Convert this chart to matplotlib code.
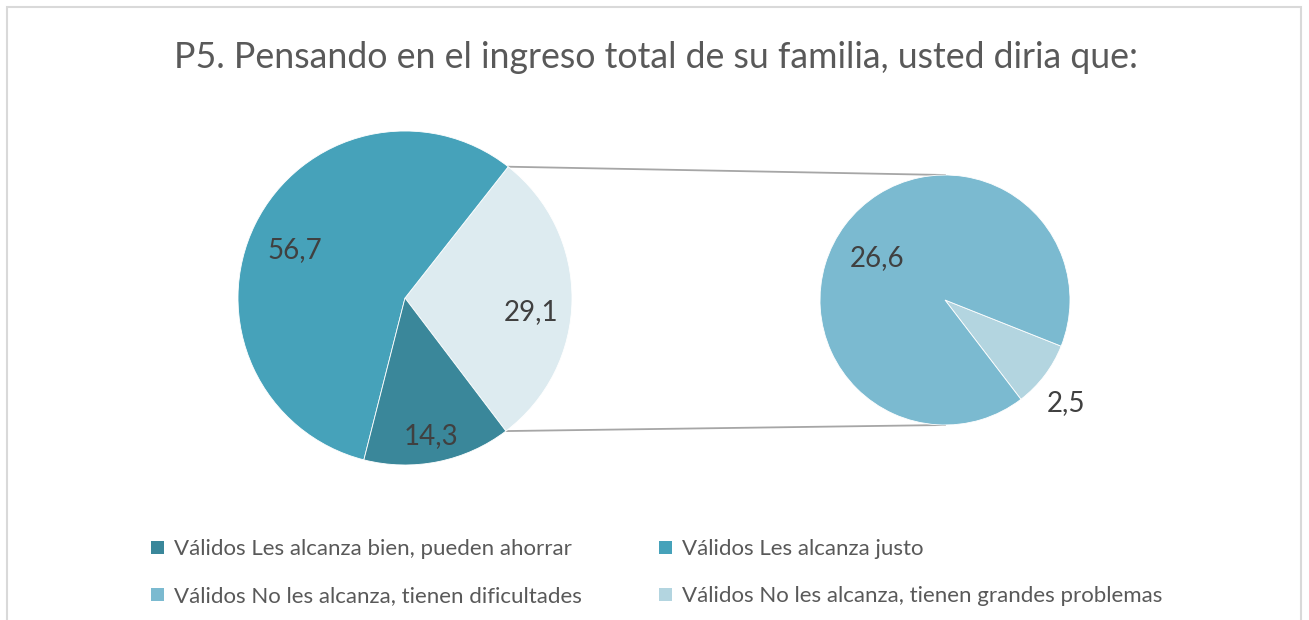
import numpy as np
import matplotlib.pyplot as plt
from matplotlib.patches import Rectangle

plt.rcParams['font.family'] = ['Lato', 'DejaVu Sans']

title = "P5. Pensando en el ingreso total de su familia, usted diria que:"

# main pie: "otros" (split into the second pie), justo, bien
main_vals = [29.1, 56.7, 14.3]
main_labels = ["29,1", "56,7", "14,3"]
# secondary pie: grandes problemas, dificultades
sub_vals = [2.5, 26.6]
sub_labels = ["2,5", "26,6"]

legend_names = ["Válidos Les alcanza bien, pueden ahorrar",
                "Válidos Les alcanza justo",
                "Válidos No les alcanza, tienen dificultades",
                "Válidos No les alcanza, tienen grandes problemas"]

c_bien = '#3a879a'
c_justo = '#46a2ba'
c_otro = '#ddebf0'
c_dif = '#7bbad0'
c_grand = '#b3d5e0'
legend_colors = [c_bien, c_justo, c_dif, c_grand]

W, H = 1309, 620
fig = plt.figure(figsize=(W / 100, H / 100), dpi=100)
ax = fig.add_axes([0, 0, 1, 1])

# main pie
c1 = (405, 322)
r1 = 167
total = sum(main_vals)
start1 = -main_vals[0] / total * 360 / 2 - 0.5
wedges1, _ = ax.pie(main_vals, colors=[c_otro, c_justo, c_bien], startangle=start1,
                    counterclock=True, center=c1, radius=r1,
                    wedgeprops=dict(lw=0.6, ec='white'), frame=True)

# secondary pie
c2 = (945, 320)
r2 = 125
start2 = -52.6
wedges2, _ = ax.pie(sub_vals, colors=[c_grand, c_dif], startangle=start2,
                    counterclock=True, center=c2, radius=r2,
                    wedgeprops=dict(lw=0.6, ec='white'), frame=True)
ax.set_xlim(0, W)
ax.set_ylim(0, H)
ax.set_aspect('equal')
ax.axis('off')

# chart frame
ax.add_patch(Rectangle((7, -5), 1294, H - 7 + 5, fill=False, ec='#d9d9d9', lw=1.5))

ax.text(W / 2 + 1, H - 57, title, ha='center', va='center', fontsize=25.7,
        color='#595959')

# connector lines
a_top = np.radians(wedges1[0].theta2)
a_bot = np.radians(wedges1[0].theta1)
ax.plot([c1[0] + r1 * np.cos(a_top), c2[0]], [c1[1] + r1 * np.sin(a_top), c2[1] + r2],
        color='#a6a6a6', lw=1.3, zorder=0)
ax.plot([c1[0] + r1 * np.cos(a_bot), c2[0]], [c1[1] + r1 * np.sin(a_bot), c2[1] - r2],
        color='#a6a6a6', lw=1.3, zorder=0)

# data labels (angle, fraction of radius)
main_pos = [(-6.3, 0.76), (156.4, 0.72), (-79.3, 0.84)]
for lab, (ang, d) in zip(main_labels, main_pos):
    a = np.radians(ang)
    ax.text(c1[0] + d * r1 * np.cos(a), c1[1] + d * r1 * np.sin(a), lab,
            ha='center', va='center', fontsize=20, color='#404040')
sub_pos = [(-40.5, 1.27), (148.1, 0.64)]
for lab, (ang, d) in zip(sub_labels, sub_pos):
    a = np.radians(ang)
    ax.text(c2[0] + d * r2 * np.cos(a), c2[1] + d * r2 * np.sin(a), lab,
            ha='center', va='center', fontsize=20, color='#404040')

# legend
leg_x = [157, 665]
leg_y = [H - 548, H - 595]
for i, (name, col) in enumerate(zip(legend_names, legend_colors)):
    x = leg_x[i % 2]
    y = leg_y[i // 2]
    ax.add_patch(Rectangle((x - 6, y - 6), 13, 13, color=col, lw=0))
    ax.text(x + 17, y - 1, name, ha='left', va='center', fontsize=16, color='#595959')

fig.savefig('out.png', dpi=100)
